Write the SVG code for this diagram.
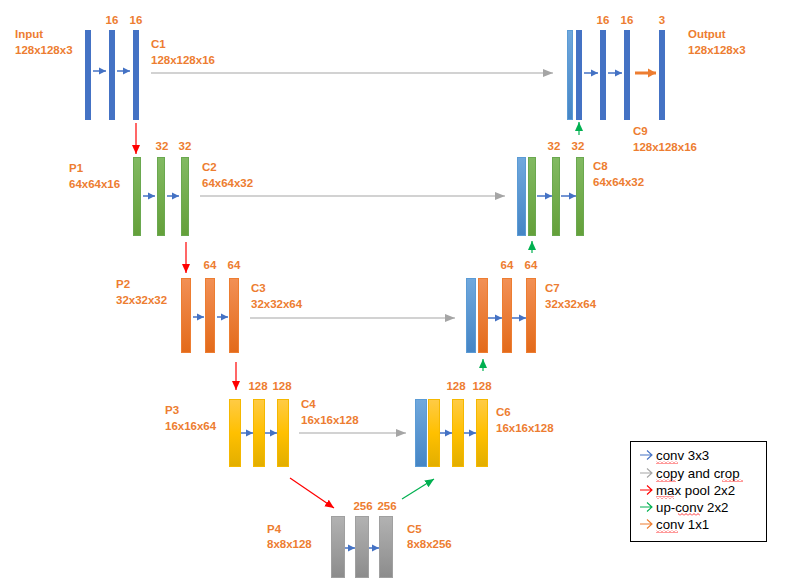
<svg xmlns="http://www.w3.org/2000/svg" width="802" height="588" viewBox="0 0 802 588">
<style>
.lbl{font-family:"Liberation Sans",Arial,sans-serif;font-weight:bold;font-size:11.5px;fill:#ED7D31}
.ctr{text-anchor:middle}
.leg{font-family:"Liberation Sans",Arial,sans-serif;font-size:13.3px;fill:#000}
.dk{fill:#4472C4}
.lb{fill:url(#gLB);stroke:#5B9BD5;stroke-width:1}
.gr{fill:url(#gGr);stroke:#6AA84F;stroke-width:1}
.or{fill:url(#gOr);stroke:#ED7D31;stroke-width:1}
.ye{fill:url(#gYe);stroke:#F5B800;stroke-width:1}
.gy{fill:url(#gGy);stroke:#A0A0A0;stroke-width:1}
.cv{stroke:#4472C4;stroke-width:1.5;fill:none;marker-end:url(#mBlue)}
.cp{stroke:#A5A5A5;stroke-width:1.2;fill:none;marker-end:url(#mGray)}
.mp{stroke:#FF0000;stroke-width:1.2;fill:none;marker-end:url(#mRed)}
.uc{stroke:#00B050;stroke-width:1.2;fill:none;marker-end:url(#mGreen)}
.c1{stroke:#ED7D31;stroke-width:3;fill:none;marker-end:url(#mOrange)}
.la{fill:none;stroke-width:1.1}
</style>
<defs>
<linearGradient id="gLB" x1="0" y1="0" x2="0" y2="1"><stop offset="0" stop-color="#70A8DD"/><stop offset="1" stop-color="#4585C5"/></linearGradient>
<linearGradient id="gGr" x1="0" y1="0" x2="0" y2="1"><stop offset="0" stop-color="#82BA62"/><stop offset="1" stop-color="#64A03A"/></linearGradient>
<linearGradient id="gOr" x1="0" y1="0" x2="0" y2="1"><stop offset="0" stop-color="#F29055"/><stop offset="1" stop-color="#E36A1A"/></linearGradient>
<linearGradient id="gYe" x1="0" y1="0" x2="0" y2="1"><stop offset="0" stop-color="#FFCB45"/><stop offset="0.5" stop-color="#FFC000"/><stop offset="1" stop-color="#E2AE00"/></linearGradient>
<linearGradient id="gGy" x1="0" y1="0" x2="0" y2="1"><stop offset="0" stop-color="#B2B2B2"/><stop offset="1" stop-color="#8C8C8C"/></linearGradient>
<marker id="mBlue" markerUnits="userSpaceOnUse" markerWidth="8" markerHeight="8" refX="7" refY="4" orient="auto"><path d="M0,0.5 L7,4 L0,7.5 z" fill="#4472C4"/></marker>
<marker id="mGray" markerUnits="userSpaceOnUse" markerWidth="11" markerHeight="9" refX="10" refY="4.5" orient="auto"><path d="M0,0.5 L10,4.5 L0,8.5 z" fill="#A5A5A5"/></marker>
<marker id="mRed" markerUnits="userSpaceOnUse" markerWidth="10" markerHeight="10" refX="9" refY="5" orient="auto"><path d="M0,1 L9,5 L0,9 z" fill="#FF0000"/></marker>
<marker id="mGreen" markerUnits="userSpaceOnUse" markerWidth="10" markerHeight="10" refX="9" refY="5" orient="auto"><path d="M0,1 L9,5 L0,9 z" fill="#00B050"/></marker>
<marker id="mOrange" markerUnits="userSpaceOnUse" markerWidth="9" markerHeight="10" refX="8" refY="5" orient="auto"><path d="M0,0.5 L8,5 L0,9.5 z" fill="#ED7D31"/></marker>
<pattern id="wavy" width="4" height="3" patternUnits="userSpaceOnUse"><path d="M0,2.5 L2,0.5 L4,2.5" stroke="#FF0000" stroke-width="0.8" fill="none"/></pattern>
</defs>
<rect width="802" height="588" fill="#FFFFFF"/>

<g id="input">
<rect class="dk" x="85" y="30" width="6" height="90"/>
<text class="lbl" x="15" y="38">Input</text>
<text class="lbl" x="15" y="54">128x128x3</text>
</g>
<g id="c1">
<rect class="dk" x="109" y="30" width="6" height="90"/>
<rect class="dk" x="133" y="30" width="6" height="90"/>
<text class="lbl ctr" x="112" y="24">16</text>
<text class="lbl ctr" x="136" y="24">16</text>
<text class="lbl" x="151" y="48">C1</text>
<text class="lbl" x="151" y="64">128x128x16</text>
</g>
<g id="p1">
<rect class="gr" x="133.5" y="157.5" width="7" height="78"/>
<text class="lbl" x="69" y="172">P1</text>
<text class="lbl" x="69" y="188">64x64x16</text>
</g>
<g id="c2">
<rect class="gr" x="157.5" y="157.5" width="7" height="78"/>
<rect class="gr" x="181.5" y="157.5" width="7" height="78"/>
<text class="lbl ctr" x="162" y="150">32</text>
<text class="lbl ctr" x="185" y="150">32</text>
<text class="lbl" x="202" y="171">C2</text>
<text class="lbl" x="202" y="187">64x64x32</text>
</g>
<g id="p2">
<rect class="or" x="181.5" y="278.5" width="9" height="74"/>
<text class="lbl" x="116" y="288">P2</text>
<text class="lbl" x="116" y="304">32x32x32</text>
</g>
<g id="c3">
<rect class="or" x="205.5" y="278.5" width="9" height="74"/>
<rect class="or" x="229.5" y="278.5" width="9" height="74"/>
<text class="lbl ctr" x="210" y="269">64</text>
<text class="lbl ctr" x="234" y="269">64</text>
<text class="lbl" x="251" y="292">C3</text>
<text class="lbl" x="251" y="308">32x32x64</text>
</g>
<g id="p3">
<rect class="ye" x="229.5" y="399.5" width="11" height="67"/>
<text class="lbl" x="165" y="414">P3</text>
<text class="lbl" x="165" y="430">16x16x64</text>
</g>
<g id="c4">
<rect class="ye" x="253.5" y="399.5" width="11" height="67"/>
<rect class="ye" x="277.5" y="399.5" width="11" height="67"/>
<text class="lbl ctr" x="258" y="390">128</text>
<text class="lbl ctr" x="282" y="390">128</text>
<text class="lbl" x="301" y="408">C4</text>
<text class="lbl" x="301" y="424">16x16x128</text>
</g>
<g id="p4">
<rect class="gy" x="331.5" y="516.5" width="13" height="61"/>
<text class="lbl" x="267" y="533">P4</text>
<text class="lbl" x="267" y="548">8x8x128</text>
</g>
<g id="c5">
<rect class="gy" x="355.5" y="516.5" width="13" height="61"/>
<rect class="gy" x="379.5" y="516.5" width="13" height="61"/>
<text class="lbl ctr" x="363" y="510">256</text>
<text class="lbl ctr" x="387" y="510">256</text>
<text class="lbl" x="407" y="533">C5</text>
<text class="lbl" x="407" y="548">8x8x256</text>
</g>
<g id="c6">
<rect class="lb" x="415.5" y="399.5" width="11" height="67"/>
<rect class="ye" x="428.5" y="399.5" width="11" height="67"/>
<rect class="ye" x="452.5" y="399.5" width="11" height="67"/>
<rect class="ye" x="476.5" y="399.5" width="11" height="67"/>
<text class="lbl ctr" x="456" y="390">128</text>
<text class="lbl ctr" x="482" y="390">128</text>
<text class="lbl" x="496" y="416">C6</text>
<text class="lbl" x="496" y="432">16x16x128</text>
</g>
<g id="c7">
<rect class="lb" x="466.5" y="278.5" width="9" height="74"/>
<rect class="or" x="478.5" y="278.5" width="9" height="74"/>
<rect class="or" x="502.5" y="278.5" width="9" height="74"/>
<rect class="or" x="526.5" y="278.5" width="9" height="74"/>
<text class="lbl ctr" x="507" y="269">64</text>
<text class="lbl ctr" x="531" y="269">64</text>
<text class="lbl" x="545" y="292">C7</text>
<text class="lbl" x="545" y="308">32x32x64</text>
</g>
<g id="c8">
<rect class="lb" x="517.5" y="157.5" width="8" height="78"/>
<rect class="gr" x="528.5" y="157.5" width="7" height="78"/>
<rect class="gr" x="552.5" y="157.5" width="7" height="78"/>
<rect class="gr" x="576.5" y="157.5" width="7" height="78"/>
<text class="lbl ctr" x="554" y="150">32</text>
<text class="lbl ctr" x="578" y="150">32</text>
<text class="lbl" x="593" y="170">C8</text>
<text class="lbl" x="593" y="186">64x64x32</text>
</g>
<g id="c9">
<rect class="lb" x="567.5" y="30.5" width="5" height="89"/>
<rect class="dk" x="576" y="30" width="6" height="90"/>
<rect class="dk" x="600" y="30" width="6" height="90"/>
<rect class="dk" x="624" y="30" width="6" height="90"/>
<text class="lbl ctr" x="603" y="24">16</text>
<text class="lbl ctr" x="627" y="24">16</text>
<text class="lbl" x="633" y="135">C9</text>
<text class="lbl" x="633" y="151">128x128x16</text>
</g>
<g id="output">
<rect class="dk" x="659" y="30" width="6" height="90"/>
<text class="lbl ctr" x="662" y="24">3</text>
<text class="lbl" x="688" y="38">Output</text>
<text class="lbl" x="688" y="54">128x128x3</text>
</g>

<g id="connectors">
<path class="cv" d="M93,71 H106"/>
<path class="cv" d="M117,71 H130"/>
<path class="cv" d="M143,196 H155"/>
<path class="cv" d="M167,196 H179"/>
<path class="cv" d="M193,317 H204"/>
<path class="cv" d="M217,317 H228"/>
<path class="cv" d="M241,433 H253"/>
<path class="cv" d="M265,433 H277"/>
<path class="cv" d="M345,548 H355"/>
<path class="cv" d="M369,548 H379"/>
<path class="cv" d="M440,433 H452"/>
<path class="cv" d="M464,433 H476"/>
<path class="cv" d="M488,318 H502"/>
<path class="cv" d="M512,318 H526"/>
<path class="cv" d="M537,196 H552"/>
<path class="cv" d="M561,196 H576"/>
<path class="cv" d="M584,73 H598"/>
<path class="cv" d="M608,73 H622"/>
<path class="c1" d="M635,73 H656"/>
<path class="cp" d="M151,73 H553"/>
<path class="cp" d="M200,196 H505"/>
<path class="cp" d="M250,318 H455"/>
<path class="cp" d="M299,433 H406"/>
<path class="mp" d="M136,123 V154"/>
<path class="mp" d="M186,242 V273"/>
<path class="mp" d="M236,362 V390"/>
<path class="mp" d="M290,478 L334,508"/>
<path class="uc" d="M402,499 L434,479"/>
<path class="uc" d="M483,371 V359"/>
<path class="uc" d="M532,253 V241"/>
<path class="uc" d="M579,135 V122"/>
</g>

<g id="legend">
<rect x="630.5" y="441.5" width="136" height="100" fill="#FFFFFF" stroke="#000000" stroke-width="1"/>
<path class="la" stroke="#4472C4" d="M640,455 H652 M647,450.5 L652,455 L647,459.5"/>
<path class="la" stroke="#A5A5A5" d="M640,473 H652 M647,468.5 L652,473 L647,477.5"/>
<path class="la" stroke="#FF0000" d="M640,490 H652 M647,485.5 L652,490 L647,494.5"/>
<path class="la" stroke="#00B050" d="M640,507 H652 M647,502.5 L652,507 L647,511.5"/>
<path class="la" stroke="#ED7D31" d="M640,524 H652 M647,519.5 L652,524 L647,528.5"/>
<text class="leg" x="656" y="460">conv 3x3</text>
<text class="leg" x="656" y="478">copy and crop</text>
<text class="leg" x="656" y="495">max pool 2x2</text>
<text class="leg" x="656" y="512">up-conv 2x2</text>
<text class="leg" x="656" y="529">conv 1x1</text>
<rect x="656" y="461" width="22" height="3" fill="url(#wavy)"/>
<rect x="656" y="479" width="20" height="3" fill="url(#wavy)"/>
<rect x="722" y="479" width="21" height="3" fill="url(#wavy)"/>
<rect x="656" y="496" width="18" height="3" fill="url(#wavy)"/>
<rect x="678" y="513" width="22" height="3" fill="url(#wavy)"/>
<rect x="656" y="530" width="22" height="3" fill="url(#wavy)"/>
</g>
</svg>
